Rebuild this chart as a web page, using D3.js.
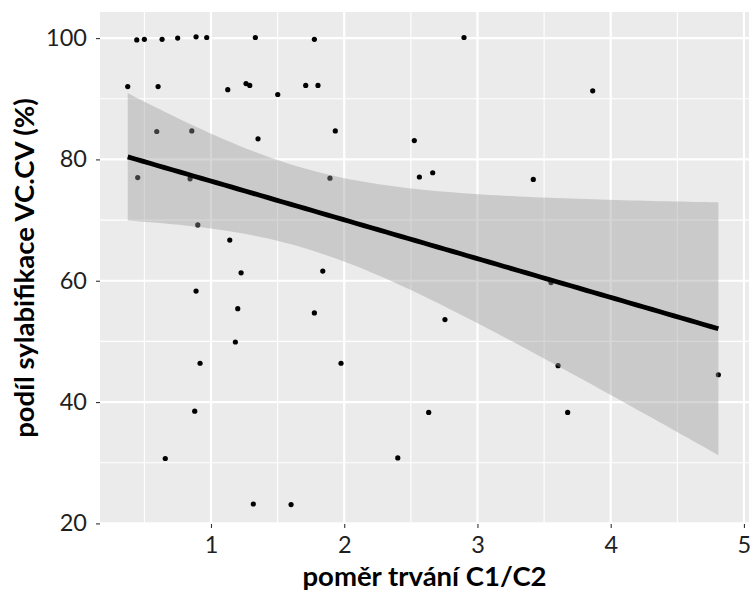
<html>
<head>
  <meta charset="utf-8">
  <title>Scatter</title>
  <script src="https://d3js.org/d3.v7.min.js"></script>
  <style>
    body { margin: 0; background: #fff; }
    .tick-label { font-family: Lato, "Open Sans", sans-serif; font-size: 23.5px; fill: #1f1f1f; }
    .axis-title { font-family: Lato, "Open Sans", sans-serif; font-size: 27.5px; font-weight: bold; fill: #000; }
  </style>
</head>
<body>
  <div id="chart"></div>

  <script type="text/javascript">

    // ratio C1/C2 (x) and share of VC.CV syllabification in % (y)
    var ratio = [0.443, 0.500, 0.633, 0.750, 0.888, 0.968, 1.333, 1.776, 2.899,
                 0.375, 0.603, 1.126, 1.263, 1.291, 1.501, 1.711, 1.803, 3.865,
                 0.593, 0.856, 1.353, 1.933, 2.526,
                 0.450, 0.843, 1.893, 2.564, 2.664, 3.419,
                 0.901, 1.141, 1.226, 1.839, 3.552, 0.888, 1.201, 1.776, 2.756,
                 1.183, 0.918, 1.976, 3.605, 4.808, 0.878, 2.634, 3.677,
                 0.657, 2.402, 1.318, 1.601];
    var share = [99.7, 99.8, 99.8, 100.0, 100.2, 100.1, 100.1, 99.8, 100.1,
                 92.0, 92.0, 91.5, 92.5, 92.2, 90.7, 92.2, 92.2, 91.3,
                 84.6, 84.7, 83.4, 84.7, 83.1,
                 77.0, 76.8, 76.9, 77.1, 77.8, 76.7,
                 69.2, 66.7, 61.3, 61.6, 59.7, 58.3, 55.4, 54.7, 53.6,
                 49.9, 46.4, 46.4, 46.0, 44.5, 38.5, 38.3, 38.3,
                 30.7, 30.8, 23.2, 23.1];

    var xTicks = [1, 2, 3, 4, 5];
    var yTicks = [20, 40, 60, 80, 100];
    var xMinor = [0.5, 1.5, 2.5, 3.5, 4.5];
    var yMinor = [30, 50, 70, 90];

    var margin = {top: 12, right: 1, bottom: 76, left: 100};
    var width = 750 - margin.left - margin.right;
    var height = 600 - margin.top - margin.bottom;

    var x = d3.scaleLinear().domain([0.167, 5.038]).range([0, width]);
    var y = d3.scaleLinear().domain([19.9, 104.3]).range([height, 0]);

    var svg = d3.select('#chart')
                .append('svg')
                  .attr('width', 750)
                  .attr('height', 600)
                .append('g')
                  .attr('transform', 'translate(' + margin.left + ',' + margin.top + ')');

    // panel background
    svg.append('rect')
       .attr('width', width)
       .attr('height', height)
       .attr('fill', '#ebebeb');

    // minor grid
    svg.selectAll('.xminor').data(xMinor).enter().append('line')
       .attr('x1', function(d) { return x(d); }).attr('x2', function(d) { return x(d); })
       .attr('y1', 0).attr('y2', height)
       .attr('stroke', '#fff').attr('stroke-width', 1.1);
    svg.selectAll('.yminor').data(yMinor).enter().append('line')
       .attr('y1', function(d) { return y(d); }).attr('y2', function(d) { return y(d); })
       .attr('x1', 0).attr('x2', width)
       .attr('stroke', '#fff').attr('stroke-width', 1.1);

    // major grid
    svg.selectAll('.xmajor').data(xTicks).enter().append('line')
       .attr('x1', function(d) { return x(d); }).attr('x2', function(d) { return x(d); })
       .attr('y1', 0).attr('y2', height)
       .attr('stroke', '#fff').attr('stroke-width', 2.2);
    svg.selectAll('.ymajor').data(yTicks).enter().append('line')
       .attr('y1', function(d) { return y(d); }).attr('y2', function(d) { return y(d); })
       .attr('x1', 0).attr('x2', width)
       .attr('stroke', '#fff').attr('stroke-width', 2.2);

    // points
    var pts = ratio.map(function(d, i) { return {x: d, y: share[i]}; });
    svg.selectAll('circle').data(pts).enter().append('circle')
       .attr('cx', function(d) { return x(d.x); })
       .attr('cy', function(d) { return y(d.y); })
       .attr('r', 2.6)
       .attr('fill', '#000');

    // linear fit with 95% confidence band (like geom_smooth(method = "lm"))
    var n = pts.length;
    var mx = d3.mean(ratio), my = d3.mean(share);
    var sxx = d3.sum(ratio, function(d) { return (d - mx) * (d - mx); });
    var sxy = d3.sum(pts, function(d) { return (d.x - mx) * (d.y - my); });
    var b = sxy / sxx, a = my - b * mx;
    var sse = d3.sum(pts, function(d) { var r = d.y - (a + b * d.x); return r * r; });
    var s = Math.sqrt(sse / (n - 2));
    var tq = 2.0106; // t(0.975, df = 48)

    var xs = d3.range(0, 81).map(function(i) {
      return d3.min(ratio) + i / 80 * (d3.max(ratio) - d3.min(ratio));
    });
    var fit = xs.map(function(xv) {
      var yv = a + b * xv;
      var se = s * Math.sqrt(1 / n + (xv - mx) * (xv - mx) / sxx);
      return {x: xv, y: yv, lo: yv - tq * se, hi: yv + tq * se};
    });

    svg.append('path')
       .datum(fit)
       .attr('d', d3.area()
                    .x(function(d) { return x(d.x); })
                    .y0(function(d) { return y(d.lo); })
                    .y1(function(d) { return y(d.hi); }))
       .attr('fill', '#999999')
       .attr('fill-opacity', 0.4);

    svg.append('path')
       .datum(fit)
       .attr('d', d3.line()
                    .x(function(d) { return x(d.x); })
                    .y(function(d) { return y(d.y); }))
       .attr('fill', 'none')
       .attr('stroke', '#000')
       .attr('stroke-width', 4.8);

    // axes
    var xAxis = svg.append('g')
                   .attr('transform', 'translate(0,' + height + ')')
                   .call(d3.axisBottom(x).tickValues(xTicks).tickSize(4).tickPadding(8).tickFormat(d3.format('d')));
    var yAxis = svg.append('g')
                   .call(d3.axisLeft(y).tickValues(yTicks).tickSize(4).tickPadding(9).tickFormat(d3.format('d')));

    [xAxis, yAxis].forEach(function(g) {
      g.select('.domain').remove();
      g.selectAll('.tick line').attr('stroke', '#333').attr('stroke-width', 1.1);
      g.selectAll('.tick text').attr('class', 'tick-label').attr('fill', null);
    });

    svg.append('text')
       .attr('class', 'axis-title')
       .attr('text-anchor', 'middle')
       .attr('x', width / 2)
       .attr('y', height + 62)
       .text('poměr trvání C1/C2');

    svg.append('text')
       .attr('class', 'axis-title')
       .attr('text-anchor', 'middle')
       .attr('transform', 'rotate(-90)')
       .attr('x', -height / 2)
       .attr('y', -66)
       .text('podíl sylabifikace VC.CV (%)');

  </script>
</body>
</html>
